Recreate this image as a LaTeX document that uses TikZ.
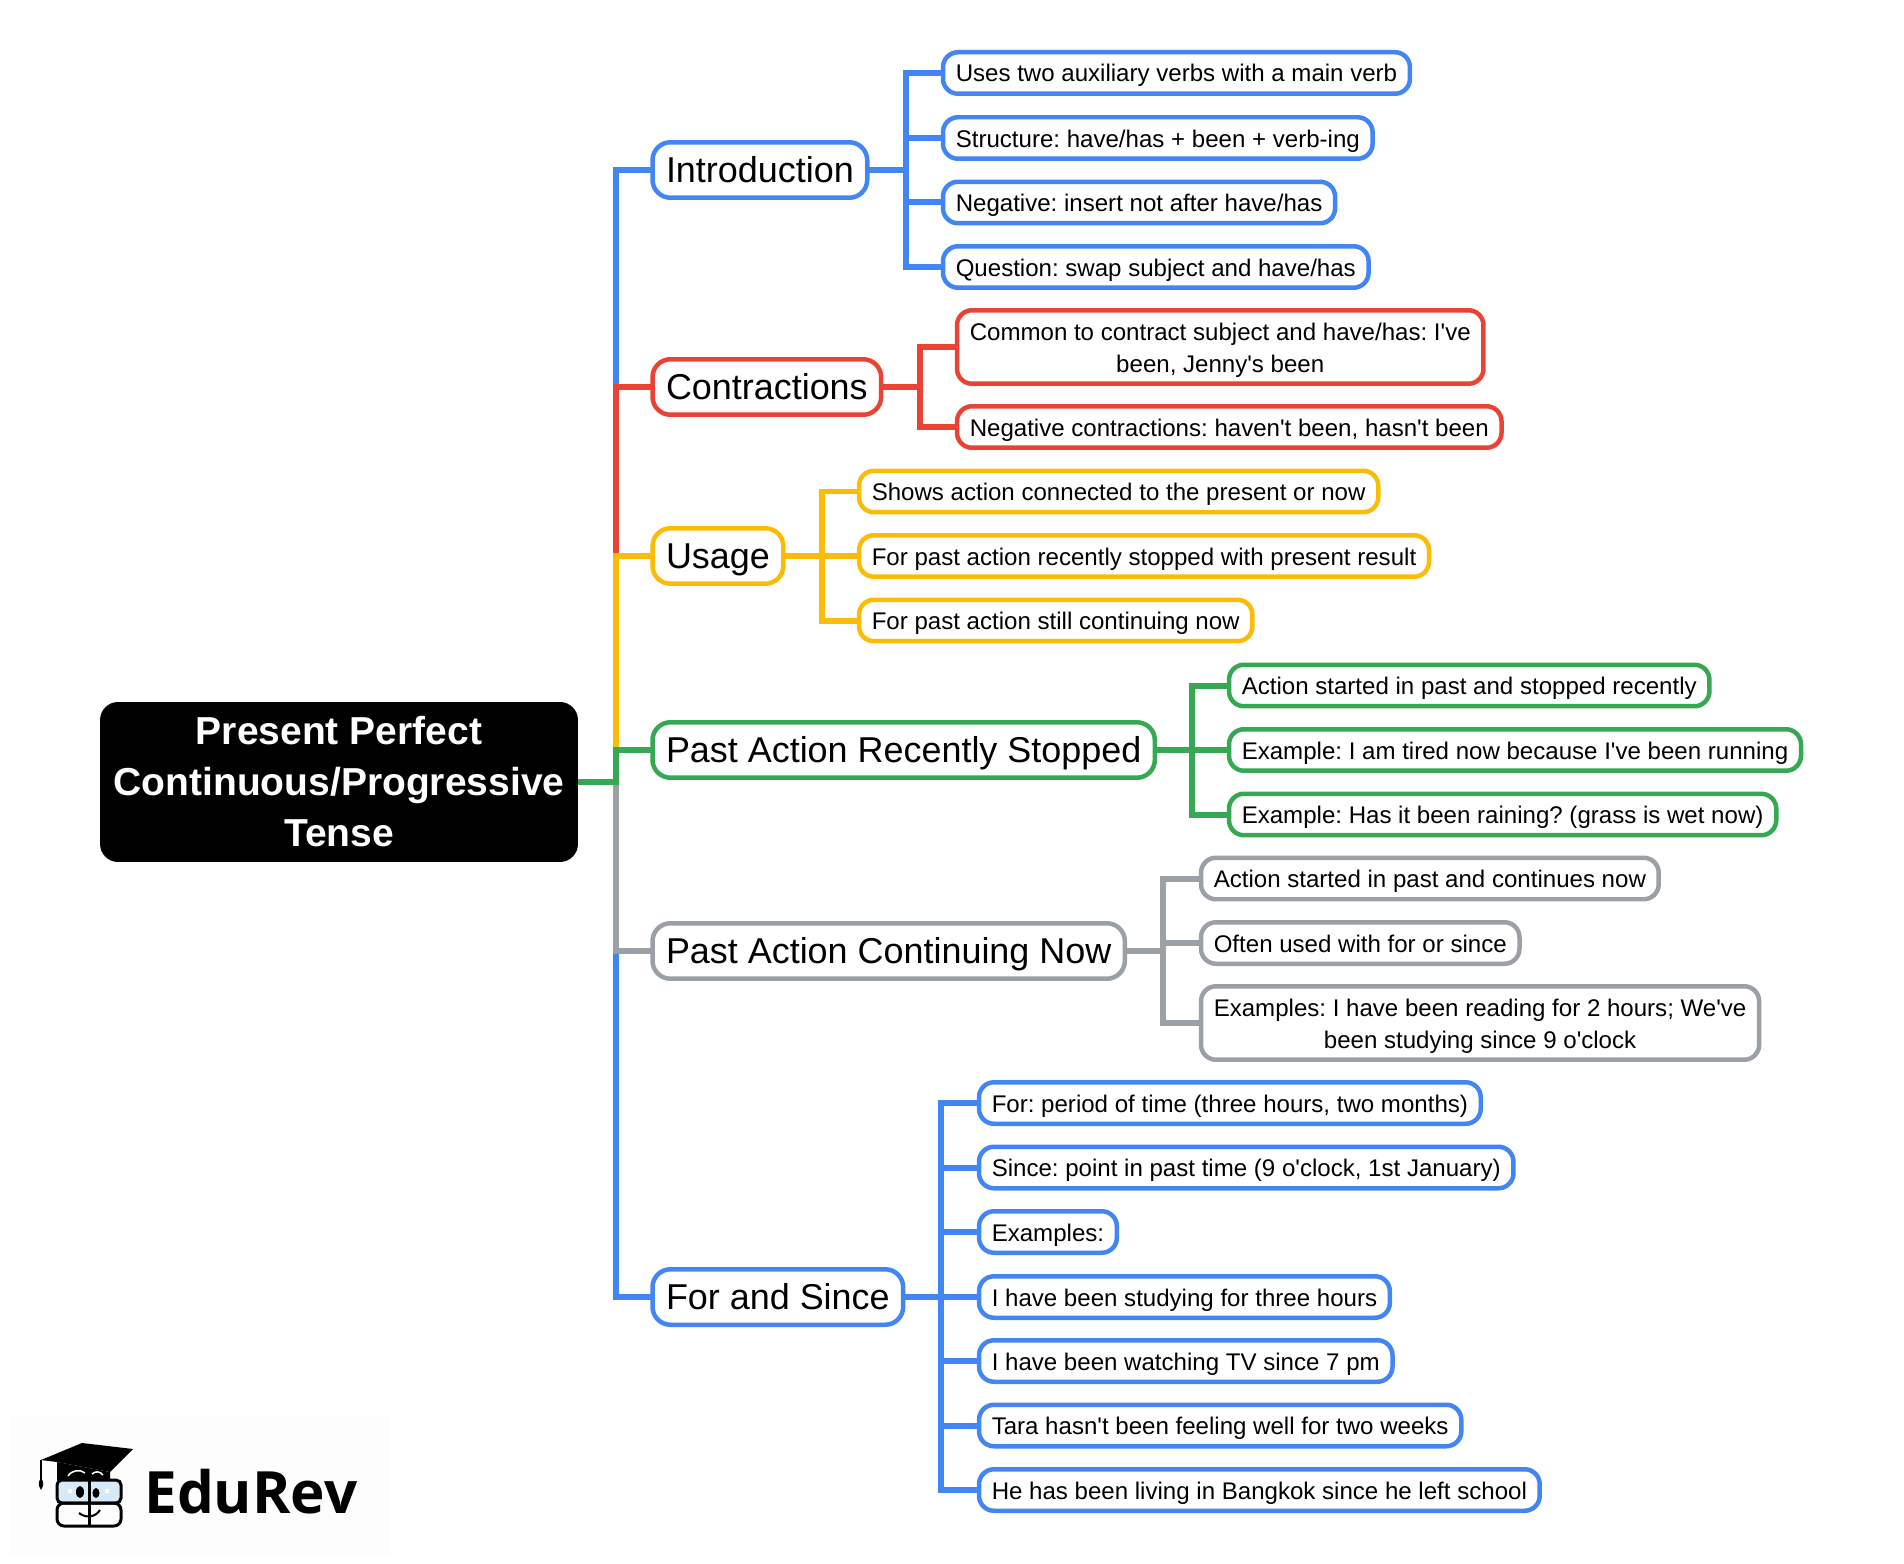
\documentclass[tikz,border=0pt]{standalone}
\usepackage{fontspec}
\newfontfamily\mapfont{Liberation Sans}
\newfontfamily\logofont{Open Sans}
\definecolor{mapblue}{HTML}{4285F4}
\definecolor{mapred}{HTML}{EA4335}
\definecolor{mapyellow}{HTML}{FBBC05}
\definecolor{mapgreen}{HTML}{34A853}
\definecolor{mapgray}{HTML}{9AA0A6}
\definecolor{logoblue}{HTML}{D6EAF8}
\definecolor{logoback}{HTML}{FDFDFD}
\tikzset{
  rootbox/.style={fill=black,text=white,rounded corners=.36cm,align=center,minimum width=9.56cm,minimum height=3.2cm,inner sep=0pt,outer sep=0pt,font=\mapfont\bfseries\frenchspacing\fontsize{22.2}{29}\selectfont},
  mainbox/.style={draw,fill=white,anchor=west,line width=.09cm,rounded corners=.36cm,align=center,minimum height=1.11cm,text height=18.5pt,text depth=4.3pt,inner xsep=.27cm,inner ysep=0pt,outer sep=0pt,font=\mapfont\frenchspacing\fontsize{20.45}{24}\selectfont},
  subbox/.style={draw,fill=white,anchor=west,line width=.09cm,rounded corners=.3cm,align=center,minimum height=.83cm,text height=13.1pt,text depth=2.85pt,inner xsep=.255cm,inner ysep=0pt,outer sep=0pt,font=\mapfont\frenchspacing\fontsize{13.7}{18}\selectfont},
  twolines/.style={minimum height=1.47cm,text height=31.2pt,text depth=2.4pt},
  link/.style={line width=.12cm}
}
\begin{document}
\begin{tikzpicture}[x=.02cm,y=-.02cm]
\useasboundingbox (0,0) rectangle (1904,1564);

\node[rootbox] (root) at (339,782) {Present Perfect\\Continuous/Progressive\\Tense};

\node[mainbox,draw=mapblue] (intro) at (652.5,170) {Introduction};
\node[mainbox,draw=mapred] (contr) at (652.5,387) {Contractions};
\node[mainbox,draw=mapyellow] (usage) at (652.5,556) {Usage};
\node[mainbox,draw=mapgreen] (stopped) at (652.5,750) {Past Action Recently Stopped};
\node[mainbox,draw=mapgray] (contin) at (652.5,951) {Past Action Continuing Now};
\node[mainbox,draw=mapblue] (forsince) at (652.5,1297) {For and Since};

\coordinate (trunk) at (615.5,782);
\coordinate (introbar) at (905.5,170);
\coordinate (contrbar) at (920,387);
\coordinate (usagebar) at (821.5,556);
\coordinate (stoppedbar) at (1192,750);
\coordinate (continbar) at (1163,951);
\coordinate (forsincebar) at (941,1297);

% Introduction
\node[subbox,draw=mapblue] (intro1) at (943,73) {Uses two auxiliary verbs with a main verb};
\node[subbox,draw=mapblue] (intro2) at (943,138) {Structure: have/has + been + verb-ing};
\node[subbox,draw=mapblue] (intro3) at (943,202.5) {Negative: insert not after have/has};
\node[subbox,draw=mapblue] (intro4) at (943,267) {Question: swap subject and have/has};

% Contractions
\node[subbox,twolines,draw=mapred] (contr1) at (957,347) {Common to contract subject and have/has: I've\\been, Jenny's been};
\node[subbox,draw=mapred] (contr2) at (957,427) {Negative contractions: haven't been, hasn't been};

% Usage
\node[subbox,draw=mapyellow] (usage1) at (859,491.5) {Shows action connected to the present or now};
\node[subbox,draw=mapyellow] (usage2) at (859,556) {For past action recently stopped with present result};
\node[subbox,draw=mapyellow] (usage3) at (859,620.5) {For past action still continuing now};

% Past Action Recently Stopped
\node[subbox,draw=mapgreen] (stopped1) at (1229,685.5) {Action started in past and stopped recently};
\node[subbox,draw=mapgreen] (stopped2) at (1229,750) {Example: I am tired now because I've been running};
\node[subbox,draw=mapgreen] (stopped3) at (1229,814.5) {Example: Has it been raining? (grass is wet now)};

% Past Action Continuing Now
\node[subbox,draw=mapgray] (contin1) at (1201,878.5) {Action started in past and continues now};
\node[subbox,draw=mapgray] (contin2) at (1201,943) {Often used with for or since};
\node[subbox,twolines,draw=mapgray] (contin3) at (1201,1023) {Examples: I have been reading for 2 hours; We've\\been studying since 9 o'clock};

% For and Since
\node[subbox,draw=mapblue] (forsince1) at (979,1103) {For: period of time (three hours, two months)};
\node[subbox,draw=mapblue] (forsince2) at (979,1167.5) {Since: point in past time (9 o'clock, 1st January)};
\node[subbox,draw=mapblue] (forsince3) at (979,1232) {Examples:};
\node[subbox,draw=mapblue] (forsince4) at (979,1297) {I have been studying for three hours};
\node[subbox,draw=mapblue] (forsince5) at (979,1361) {I have been watching TV since 7 pm};
\node[subbox,draw=mapblue] (forsince6) at (979,1425.5) {Tara hasn't been feeling well for two weeks};
\node[subbox,draw=mapblue] (forsince7) at (979,1490) {He has been living in Bangkok since he left school};

\draw[link,mapblue] (root.east) -- (trunk) |- (intro.west);
\draw[link,mapred] (root.east) -- (trunk) |- (contr.west);
\draw[link,mapyellow] (root.east) -- (trunk) |- (usage.west);
\draw[link,mapblue] (root.east) -- (trunk) |- (forsince.west);
\draw[link,mapgray] (root.east) -- (trunk) |- (contin.west);
\draw[link,mapgreen] (root.east) -- (trunk) |- (stopped.west);

\draw[link,mapblue] (intro.east) -- (introbar) |- (intro1.west);
\draw[link,mapblue] (intro.east) -- (introbar) |- (intro2.west);
\draw[link,mapblue] (intro.east) -- (introbar) |- (intro3.west);
\draw[link,mapblue] (intro.east) -- (introbar) |- (intro4.west);

\draw[link,mapred] (contr.east) -- (contrbar) |- (contr1.west);
\draw[link,mapred] (contr.east) -- (contrbar) |- (contr2.west);

\draw[link,mapyellow] (usage.east) -- (usagebar) |- (usage1.west);
\draw[link,mapyellow] (usage.east) -- (usage2.west);
\draw[link,mapyellow] (usage.east) -- (usagebar) |- (usage3.west);

\draw[link,mapgreen] (stopped.east) -- (stoppedbar) |- (stopped1.west);
\draw[link,mapgreen] (stopped.east) -- (stopped2.west);
\draw[link,mapgreen] (stopped.east) -- (stoppedbar) |- (stopped3.west);

\draw[link,mapgray] (contin.east) -- (continbar) |- (contin1.west);
\draw[link,mapgray] (contin.east) -- (continbar) |- (contin2.west);
\draw[link,mapgray] (contin.east) -- (continbar) |- (contin3.west);

\draw[link,mapblue] (forsince.east) -- (forsincebar) |- (forsince1.west);
\draw[link,mapblue] (forsince.east) -- (forsincebar) |- (forsince2.west);
\draw[link,mapblue] (forsince.east) -- (forsincebar) |- (forsince3.west);
\draw[link,mapblue] (forsince.east) -- (forsince4.west);
\draw[link,mapblue] (forsince.east) -- (forsincebar) |- (forsince5.west);
\draw[link,mapblue] (forsince.east) -- (forsincebar) |- (forsince6.west);
\draw[link,mapblue] (forsince.east) -- (forsincebar) |- (forsince7.west);

% logo
\fill[logoback] (10,1416) rectangle (390,1555);
\fill (41,1460) -- (82,1443) -- (133,1449) -- (110,1472) -- (57,1462) -- cycle;
\fill (57,1462) -- (110,1472) -- (110,1480) -- (57,1480) -- cycle;
\draw[line width=.03cm] (41,1460) -- (41,1480);
\fill (41,1478) .. controls (38,1482) and (38,1485) .. (41,1490) .. controls (44,1485) and (44,1482) .. (41,1478);
\draw[white,line width=.03cm] (68,1476) .. controls (72,1470) and (80,1469) .. (85,1473);
\draw[white,line width=.03cm] (92,1474) .. controls (95,1471) and (100,1471) .. (103,1475);
\draw[line width=.06cm,rounded corners=.1cm,fill=logoblue] (57,1480) rectangle (121,1503);
\draw[line width=.06cm,rounded corners=.14cm] (57,1503) rectangle (121,1526);
\draw[line width=.06cm] (89,1478) -- (89,1527);
\fill (80,1492) ellipse (4 and 6);
\fill (96,1493) ellipse (3.5 and 5);
\fill[white] (68,1489) rectangle (72,1493);
\fill[white] (105,1489) rectangle (109,1493);
\draw[line width=.04cm] (79,1513) .. controls (85,1518) and (95,1518) .. (100,1510);
\node[anchor=west,inner sep=0pt,font=\logofont\bfseries\fontsize{33.2}{40}\selectfont] (logotext) at (144,1492) {EduRev};
\end{tikzpicture}
\end{document}
